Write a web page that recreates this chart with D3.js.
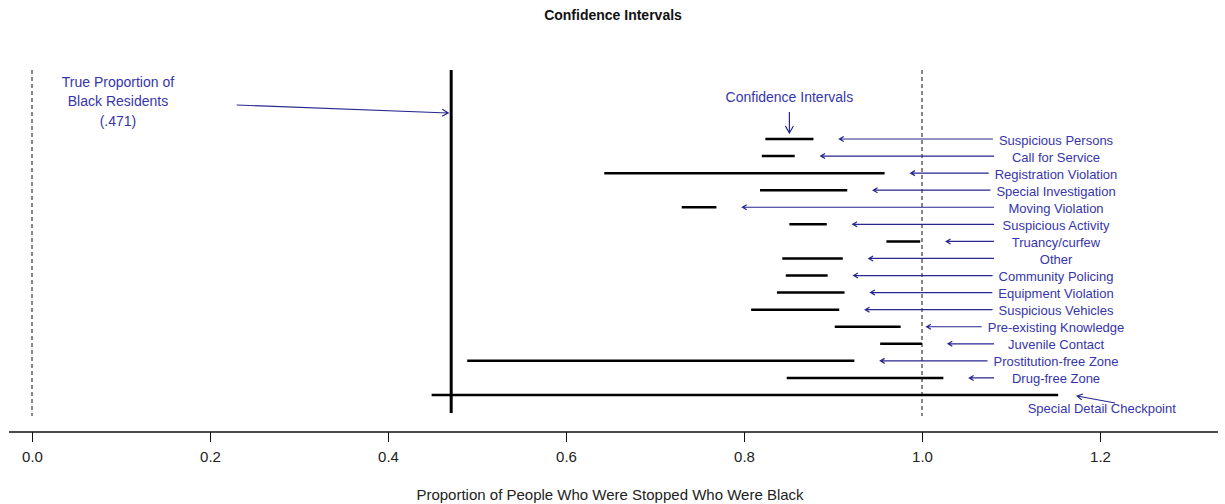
<!DOCTYPE html>
<html>
<head>
<meta charset="utf-8">
<script src="https://cdn.jsdelivr.net/npm/d3@7"></script>
<style>
  body { margin: 0; background: #fff; }
  svg text { font-family: "Liberation Sans", Arial, sans-serif; }
</style>
</head>
<body>
<svg id="chart" width="1225" height="504"></svg>
<script>
let categories = ["Suspicious Persons", "Call for Service", "Registration Violation", "Special Investigation",
  "Moving Violation", "Suspicious Activity", "Truancy/curfew", "Other", "Community Policing",
  "Equipment Violation", "Suspicious Vehicles", "Pre-existing Knowledge", "Juvenile Contact",
  "Prostitution-free Zone", "Drug-free Zone", "Special Detail Checkpoint"];
let lower = [0.824, 0.820, 0.643, 0.818, 0.730, 0.851, 0.960, 0.843, 0.847, 0.837, 0.808, 0.902, 0.953, 0.489, 0.848, 0.449];
let upper = [0.878, 0.857, 0.958, 0.916, 0.769, 0.893, 0.998, 0.911, 0.894, 0.913, 0.907, 0.976, 1.000, 0.924, 1.024, 1.153];
let trueProportion = 0.471;
let xTicks = [0, 0.2, 0.4, 0.6, 0.8, 1.0, 1.2];

let blue = "#3636aa";
let arrowBlue = "#27278f";

let x = d3.scaleLinear().domain([0, 1.2]).range([32, 1100]);
let y = d3.scalePoint().domain(categories).range([139, 395]);

let svg = d3.select("#chart");

// R style open arrow: shaft plus two short head strokes
function arrow(x1, y1, x2, y2, len) {
  let a = Math.atan2(y2 - y1, x2 - x1), s = Math.PI / 6;
  svg.append("path")
    .attr("d", "M" + x1 + "," + y1 + "L" + x2 + "," + y2 +
      "M" + (x2 - len * Math.cos(a - s)) + "," + (y2 - len * Math.sin(a - s)) +
      "L" + x2 + "," + y2 +
      "L" + (x2 - len * Math.cos(a + s)) + "," + (y2 - len * Math.sin(a + s)))
    .attr("fill", "none")
    .attr("stroke", arrowBlue)
    .attr("stroke-width", 1.2);
}

svg.append("text")
  .attr("x", 613).attr("y", 20)
  .attr("text-anchor", "middle")
  .attr("font-size", 14).attr("font-weight", "bold")
  .attr("fill", "#111")
  .text("Confidence Intervals");

// dashed reference lines at 0 and 1
svg.selectAll("line.ref")
  .data([0, 1])
  .enter()
  .append("line")
  .attr("class", "ref")
  .attr("x1", d => x(d)).attr("x2", d => x(d))
  .attr("y1", 70).attr("y2", 416)
  .attr("stroke", "#111")
  .attr("stroke-width", 1)
  .attr("stroke-dasharray", "4,3");

svg.append("line")
  .attr("x1", x(trueProportion)).attr("x2", x(trueProportion))
  .attr("y1", 70).attr("y2", 413)
  .attr("stroke", "#000")
  .attr("stroke-width", 3);

svg.selectAll("line.ci")
  .data(categories)
  .enter()
  .append("line")
  .attr("class", "ci")
  .attr("x1", (d, i) => x(lower[i]))
  .attr("x2", (d, i) => x(upper[i]))
  .attr("y1", d => y(d)).attr("y2", d => y(d))
  .attr("stroke", "#000")
  .attr("stroke-width", 2.5);

// labels with arrows pointing at each interval
let last = categories.length - 1;
categories.forEach((c, i) => {
  let special = i == last;
  let lab = svg.append("text")
    .attr("x", special ? x(1.202) : x(1.1506))
    .attr("y", y(c) + (special ? 13 : 1))
    .attr("dy", "0.35em")
    .attr("text-anchor", "middle")
    .attr("font-size", 13)
    .attr("fill", blue)
    .text(c);
  let left = (special ? x(1.202) : x(1.1506)) - lab.node().getComputedTextLength() / 2;
  if (special) {
    arrow(x(1.217), y(c) + 8, x(upper[i]) + 19, y(c) + 1, 6);
  } else {
    arrow(Math.min(x(1.081), left - 6), y(c), x(upper[i]) + 26, y(c), 5);
  }
});

// annotation on the left
let note = ["True Proportion of", "Black Residents", "(.471)"];
svg.selectAll("text.note")
  .data(note)
  .enter()
  .append("text")
  .attr("class", "note")
  .attr("x", x(0.0966))
  .attr("y", (d, i) => 82 + i * 19.5)
  .attr("dy", "0.35em")
  .attr("text-anchor", "middle")
  .attr("font-size", 14)
  .attr("fill", blue)
  .text(d => d);
arrow(x(0.23), 105, x(trueProportion) - 3, 113, 7);

let ciMid = (lower[0] + upper[0]) / 2;
svg.append("text")
  .attr("x", x(ciMid)).attr("y", 97)
  .attr("dy", "0.35em")
  .attr("text-anchor", "middle")
  .attr("font-size", 14)
  .attr("fill", blue)
  .text("Confidence Intervals");
arrow(x(ciMid), 112, x(ciMid), 133, 8);

// x axis
svg.append("line")
  .attr("x1", 9).attr("x2", 1218)
  .attr("y1", 432).attr("y2", 432)
  .attr("stroke", "#111")
  .attr("stroke-width", 1.3);

let axis = svg.append("g")
  .attr("transform", "translate(0,432)")
  .call(d3.axisBottom(x).tickValues(xTicks).tickFormat(d3.format(".1f")).tickSize(10));
axis.select(".domain").remove();
axis.selectAll(".tick line").attr("stroke", "#111");
axis.selectAll(".tick text")
  .attr("y", 30).attr("dy", 0)
  .attr("font-size", 15)
  .attr("font-family", "Liberation Sans, Arial, sans-serif")
  .attr("fill", "#222");

svg.append("text")
  .attr("x", 610).attr("y", 500)
  .attr("text-anchor", "middle")
  .attr("font-size", 15)
  .attr("fill", "#222")
  .text("Proportion of People Who Were Stopped Who Were Black");
</script>
</body>
</html>
